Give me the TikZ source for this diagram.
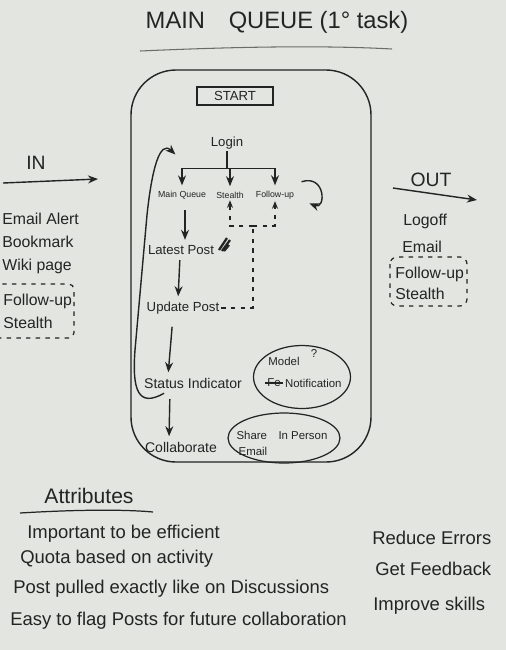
\documentclass[tikz,border=0pt]{standalone}
\usepackage{fontspec}
\setmainfont{Liberation Sans}
\usetikzlibrary{arrows.meta,calc,positioning,shapes.geometric}
\definecolor{paper}{HTML}{E2E5E0}
\definecolor{ink}{HTML}{242424}
\definecolor{pencil}{HTML}{6A6D68}
\tikzset{flow/.style={-{Stealth[length=2mm,width=1.6mm]}, line width=.8pt, draw=ink, shorten <=2pt, shorten >=2pt}, dashln/.style={line width=.7pt, draw=ink, dash pattern=on 2.5pt off 3pt}, lbl/.style={font=\fontsize{7.5}{9}\selectfont, text=ink, inner sep=1pt}, smalllbl/.style={font=\fontsize{5}{6}\selectfont, text=ink, inner sep=1pt}, bubtxt/.style={font=\fontsize{6.5}{8}\selectfont, text=ink, inner sep=1pt}, bubble/.style={ellipse, draw=ink, line width=.7pt}, listitem/.style={font=\fontsize{10.5}{12}\selectfont, text=ink, anchor=west, inner sep=0pt}, sideitem/.style={font=\fontsize{9}{11}\selectfont, text=ink, anchor=west, inner sep=0pt}}

\begin{document}
\begin{tikzpicture}[x=0.02cm,y=-0.02cm]
\useasboundingbox (0,0) rectangle (506,650); \clip (0,0) rectangle (506,650); \fill[paper] (0,0) rectangle (506,650);
\node[text=ink, font=\fontsize{13.5}{16}\selectfont] (title) at (277,22) {MAIN\quad QUEUE (1° task)};
\draw[pencil, line width=.6pt] (140,51) .. controls (230,47) and (320,45) .. (392,49);
\draw[ink, line width=.8pt, rounded corners=0.9cm] (131,70) rectangle (371,462);
\node[lbl, draw=ink, line width=.8pt, minimum width=1.52cm, minimum height=.36cm] (start) at (235,96) {START};
\node[lbl] (login) at (227,143) {Login};
\node[smalllbl] (mq) at (182,195) {Main Queue}; \node[smalllbl] (st) at (230,195) {Stealth}; \node[smalllbl] (fu) at (275,195) {Follow-up};
\draw[ink, line width=.8pt] (login.south) -- ++(0,17) coordinate (split); \draw[ink, line width=.8pt] (split -| mq) -- (split -| fu);
\foreach \n in {mq,st,fu} \draw[flow, shorten <=0pt] (split -| \n) -- (\n.north);
\draw[flow] ($(fu.north east)+(2,-6)$) .. controls (326,174) and (326,210) .. ($(fu.east)+(10,7)$);
\node[lbl] (latest) at (181,250) {Latest Post}; \node[lbl] (update) at (183,308) {Update Post};
\node[lbl, font=\fontsize{8}{9}\selectfont] (status) at (193,383) {Status Indicator}; \node[lbl, font=\fontsize{8}{9}\selectfont] (collab) at (181,447) {Collaborate};
\draw[flow, shorten <=5pt] ($(mq.south)+(3,0)$) -- ($(latest.north)+(4,0)$); \draw[flow] ($(latest.south)+(-1,0)$) -- ($(update.north)+(-5,0)$);
\draw[flow, shorten <=6pt] ($(update.south)+(-10,0)$) -- ($(status.north)+(-25,0)$); \draw[flow, shorten <=5pt] ($(status.south)+(-23,0)$) -- ($(collab.north)+(-12,0)$);
\draw[ink, line width=1.3pt] (219,250) -- (227,238) (222,251) -- (230,240) (224,251) -- (229,245);
\coordinate (dj) at (253,226);
\draw[dashln] (update.east) -| (dj); \draw[dashln, -{Stealth[length=1.5mm,width=1.2mm]}] (dj) -| (st.south); \draw[dashln, -{Stealth[length=1.5mm,width=1.2mm]}] (dj) -| (fu.south);
\draw[flow, shorten <=0pt] ($(status.south west)+(22,3)$) .. controls (138,408) and (132,390) .. (135,350) -- (147,215) .. controls (152,168) and (160,140) .. ($(mq.north)+(-4,-32)$);
\node[bubble, minimum width=1.94cm, minimum height=1.26cm] (model) at (302,377) {};
\node[bubtxt] (modeltx) at (284,361) {Model}; \node[bubtxt] (quest) at (314,354) {?};
\node[bubtxt] (fee) at (274,383) {Fe}; \draw[ink, line width=.7pt] ($(fee.west)+(0,0)$) -- ($(fee.east)+(0,0)$);
\node[bubtxt, anchor=west] (notif) at (283,383) {Notification};
\node[bubble, minimum width=2.24cm, minimum height=1.0cm] (share) at (284,438) {};
\node[bubtxt] (sharetx) at (282,435) {Share\quad In Person}; \node[bubtxt] (email) at (253,451) {Email};
\node[text=ink, font=\fontsize{11}{12}\selectfont] (in) at (36,163) {IN};
\coordinate (inA) at (3,183); \coordinate (inB) at (98,179); \draw[flow, shorten <=0pt, shorten >=0pt] (inA) -- (inB);
\node[sideitem] (ealert) at (2,219) {Email Alert}; \node[sideitem] (bookm) at (2,242) {Bookmark}; \node[sideitem] (wiki) at (2,266) {Wiki page};
\node[sideitem] (infu) at (3,301) {Follow-up}; \node[sideitem] (inst) at (3,323) {Stealth};
\draw[dashln, rounded corners=3pt] (-5,284) rectangle (74,338);
\node[text=ink, font=\fontsize{11}{12}\selectfont] (out) at (431,180) {OUT};
\coordinate (outA) at (393,188); \coordinate (outB) at (477,200); \draw[flow, shorten <=0pt, shorten >=0pt] (outA) -- (outB);
\node[sideitem] (logoff) at (403,221) {Logoff}; \node[sideitem] (outem) at (402,247) {Email};
\node[sideitem] (outfu) at (395,274) {Follow-up}; \node[sideitem] (outst) at (395,294) {Stealth};
\draw[dashln, rounded corners=4pt] (390,257) rectangle (467,306);
\node[text=ink, font=\fontsize{12}{14}\selectfont] (attr) at (89,496) {Attributes};
\draw[ink, line width=.7pt] (20,513) .. controls (70,510) and (120,509) .. (153,512);
\node[listitem] (a1) at (27,534) {Important to be efficient}; \node[listitem] (a2) at (20,559) {Quota based on activity};
\node[listitem] (a3) at (13,589) {Post pulled exactly like on Discussions}; \node[listitem] (a4) at (10,621) {Easy to flag Posts for future collaboration};
\node[listitem] (g1) at (372,538) {Reduce Errors}; \node[listitem] (g2) at (375,569) {Get Feedback}; \node[listitem] (g3) at (373,606) {Improve skills};
\end{tikzpicture}
\end{document}
